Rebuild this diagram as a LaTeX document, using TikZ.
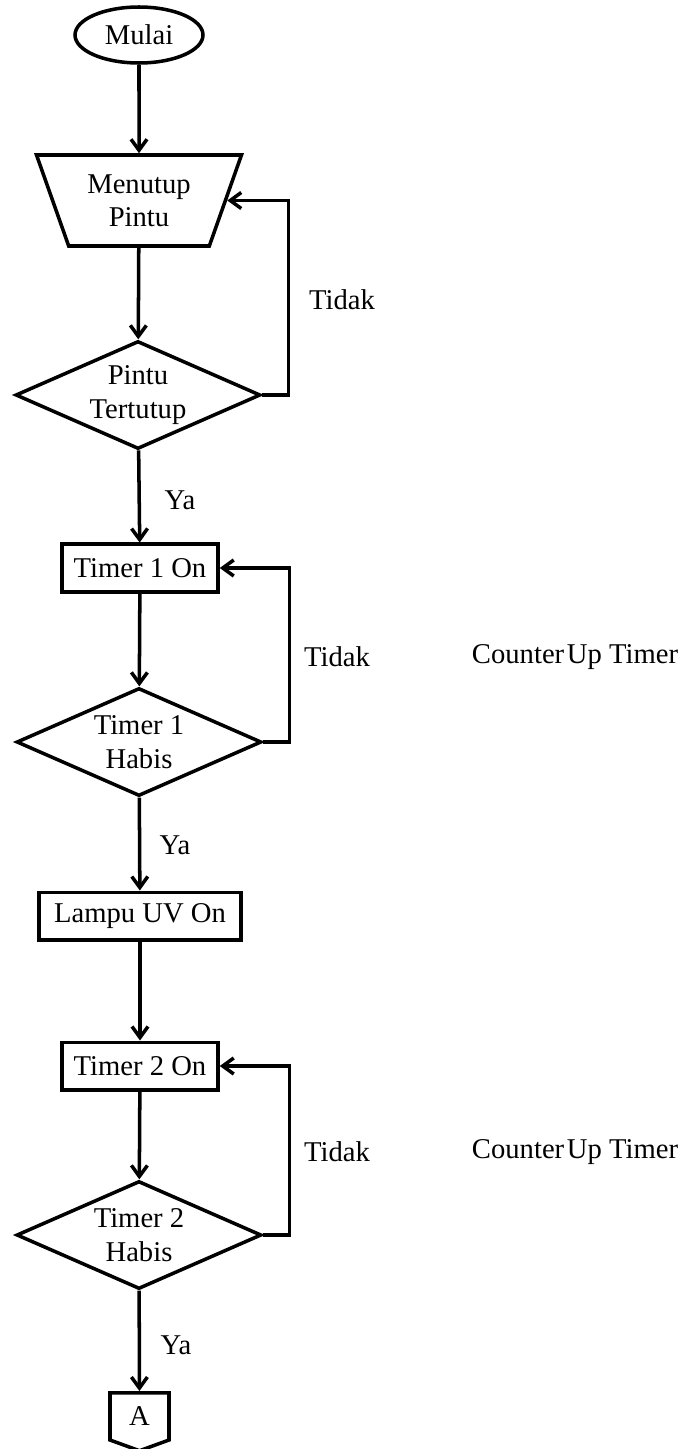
\documentclass[tikz,border=0pt]{standalone}
\usepackage{fontspec}
\setmainfont{Liberation Serif}
\usetikzlibrary{arrows.meta, shapes.geometric, shapes.symbols, positioning}
\tikzset{
  % common text
  FT/.style={font=\fontsize{16.3}{19}\selectfont,align=center},
  % start oval
  SB/.style={ellipse,draw,FT,line width=2pt,inner sep=0pt,
             minimum width=2.56cm,minimum height=1.12cm},
  % manual operation (trapezium)
  MB/.style={trapezium,draw,FT,line width=2pt,inner sep=0pt,
             shape border rotate=180,trapezium stretches=true,
             trapezium angle=65.7,minimum width=4.12cm,minimum height=1.82cm},
  % process box
  PB/.style={rectangle,draw,FT,line width=2pt,inner sep=0pt,
             minimum width=#1,minimum height=0.95cm},
  PB/.default=3.12cm,
  % decision diamond
  DC/.style={diamond,draw,FT,line width=2pt,inner sep=0pt,aspect=2.27,
             minimum width=4.9cm,minimum height=2.16cm},
  % off-page connector
  OC/.style={signal,signal to=south,signal pointer angle=140,draw,FT,
             line width=2pt,inner sep=0pt,minimum width=1.18cm,
             minimum height=1.02cm},
  % plain labels
  LB/.style={FT,inner sep=0pt},
  % arrows
  Arr/.style={-{Straight Barb[length=0.22cm,width=0.32cm,line width=2pt]},
              line width=2pt},
}
\begin{document}
\begin{tikzpicture}
  \useasboundingbox (0,0) rectangle (13.62,-28.98);
  \node[SB] at (2.78,-0.70) (mulai) {Mulai};
  \node[MB] at (2.78,-4.01) (tutup) {Menutup\\Pintu};
  \node[DC] at (2.76,-7.90) (cek) {Pintu\\Tertutup};
  \node[PB] at (2.80,-11.36) (tmr1) {Timer 1 On};
  \node[DC] at (2.78,-14.84) (habis1) {Timer 1\\Habis};
  \node[PB=4.04cm] at (2.80,-18.32) (uv) {Lampu UV On};
  \node[PB] at (2.80,-21.32) (tmr2) {Timer 2 On};
  \node[DC] at (2.78,-24.70) (habis2) {Timer 2\\Habis};
  \node[OC,anchor=north] at (2.79,-27.82) (conA) {A};
  % labels
  \node[LB] at (6.84,-6.00) (td1) {Tidak};
  \node[LB] at (6.74,-13.14) (td2) {Tidak};
  \node[LB] at (6.74,-23.04) (td3) {Tidak};
  \node[LB] at (11.50,-13.14) (cu1) {Counter\hspace{1.5pt}Up Timer};
  \node[LB] at (11.50,-23.04) (cu2) {Counter\hspace{1.5pt}Up Timer};
  \node[LB] at (3.60,-10.00) (ya1) {Ya};
  \node[LB] at (3.50,-16.90) (ya2) {Ya};
  \node[LB] at (3.52,-26.90) (ya3) {Ya};
  % main flow
  \draw[Arr] (mulai) -- (tutup);
  \draw[Arr] (tutup) -- (cek);
  \draw[Arr] (cek) -- (tmr1);
  \draw[Arr] (tmr1) -- (habis1);
  \draw[Arr] (habis1) -- (uv);
  \draw[Arr] (uv) -- (tmr2);
  \draw[Arr] (tmr2) -- (habis2);
  \draw[Arr] (habis2) -- (conA);
  % loops back
  \draw[Arr] (cek.east) -- ++(0.52,0) |- (tutup);
  \draw[Arr] (habis1.east) -- ++(0.52,0) |- (tmr1.east);
  \draw[Arr] (habis2.east) -- ++(0.52,0) |- (tmr2.east);
\end{tikzpicture}
\end{document}
